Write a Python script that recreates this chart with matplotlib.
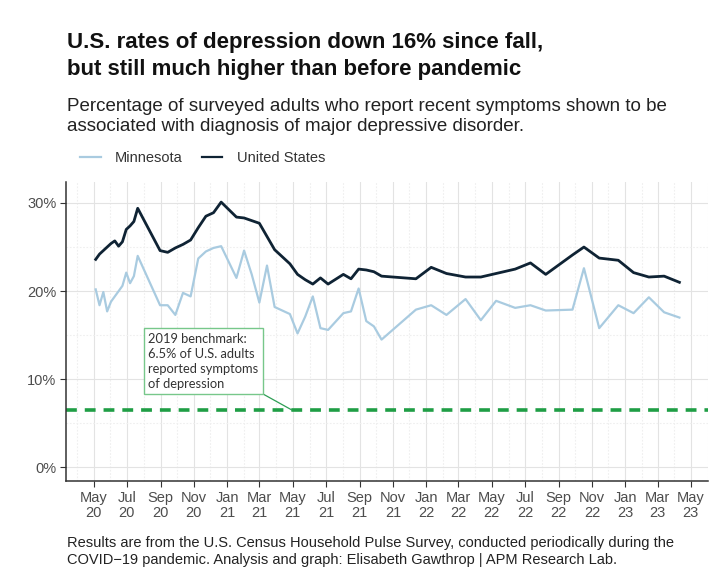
import numpy as np
import pandas as pd
import matplotlib
matplotlib.use("Agg")
import matplotlib.pyplot as plt
import matplotlib.dates as mdates
from matplotlib.ticker import FuncFormatter, MultipleLocator

plt.rcParams['font.family'] = ['Liberation Sans', 'DejaVu Sans']

# Household Pulse Survey periods (end date of each collection period)
dates = pd.to_datetime([
    "2020-05-05", "2020-05-12", "2020-05-19", "2020-05-26", "2020-06-02", "2020-06-09",
    "2020-06-16", "2020-06-23", "2020-06-30", "2020-07-07", "2020-07-14", "2020-07-21",
    "2020-08-31", "2020-09-14", "2020-09-28", "2020-10-12", "2020-10-26", "2020-11-09",
    "2020-11-23", "2020-12-07", "2020-12-21",
    "2021-01-18", "2021-02-01", "2021-02-15", "2021-03-01", "2021-03-15", "2021-03-29",
    "2021-04-26", "2021-05-10", "2021-05-24", "2021-06-07", "2021-06-21", "2021-07-05",
    "2021-08-02", "2021-08-16", "2021-08-30", "2021-09-13", "2021-09-27", "2021-10-11",
    "2021-12-13", "2022-01-10", "2022-02-07", "2022-03-14", "2022-04-11", "2022-05-09",
    "2022-06-13", "2022-07-11", "2022-08-08", "2022-09-26", "2022-10-17", "2022-11-14",
    "2022-12-19", "2023-01-16", "2023-02-13", "2023-03-13", "2023-04-10",
])

united_states = [
    23.6, 24.2, 24.6, 25.0, 25.4, 25.7, 25.1, 25.6, 27.0, 27.4, 27.9, 29.4,
    24.6, 24.4, 24.9, 25.3, 25.8, 27.2, 28.5, 28.9, 30.1,
    28.4, 28.3, 28.0, 27.7, 26.2, 24.7,
    23.1, 21.9, 21.3, 20.8, 21.5, 20.8,
    21.9, 21.4, 22.5, 22.4, 22.2, 21.7,
    21.4, 22.7, 22.0, 21.6, 21.6, 22.0,
    22.5, 23.2, 21.9, 24.1, 25.0, 23.75, 23.5,
    22.1, 21.6, 21.7, 21.0,
]

minnesota = [
    20.2, 18.4, 19.9, 17.7, 18.8, 19.4, 20.0, 20.6, 22.1, 20.9, 21.7, 24.0,
    18.4, 18.4, 17.3, 19.8, 19.4, 23.7, 24.5, 24.9, 25.1,
    21.5, 24.6, 21.9, 18.7, 22.9, 18.2,
    17.4, 15.2, 17.1, 19.4, 15.8, 15.6,
    17.5, 17.7, 20.3, 16.6, 16.0, 14.5,
    17.9, 18.4, 17.3, 19.1, 16.7, 18.9,
    18.1, 18.4, 17.8, 17.9, 22.6, 15.8, 18.4,
    17.5, 19.3, 17.6, 17.0,
]

benchmark_2019 = 6.5

mn_color = "#a9cbe0"
us_color = "#0f2334"
green = "#1f9e45"
grid_major = "#e3e3e3"
grid_minor = "#efefef"

fig = plt.figure(figsize=(7.2, 5.7), dpi=100)
ax = fig.add_axes([0.092, 0.156, 0.891, 0.525])

ax.plot(dates, minnesota, color=mn_color, lw=1.6, label="Minnesota", zorder=3)
ax.plot(dates, united_states, color=us_color, lw=2.0, label="United States", zorder=4)
ax.axhline(benchmark_2019, color=green, lw=2.6, ls=(0, (3, 2.2)), zorder=2)

ax.set_xlim(pd.Timestamp("2020-03-12"), pd.Timestamp("2023-06-01"))
ax.set_ylim(-1.55, 32.4)

# axes / grid styling
ax.xaxis.set_major_locator(mdates.MonthLocator(bymonth=[1, 3, 5, 7, 9, 11]))
ax.xaxis.set_minor_locator(mdates.MonthLocator())
ax.xaxis.set_major_formatter(mdates.DateFormatter("%b\n%y"))
ax.yaxis.set_major_locator(MultipleLocator(10))
ax.yaxis.set_minor_locator(MultipleLocator(5))
ax.yaxis.set_major_formatter(FuncFormatter(lambda v, p: f"{v:.0f}%"))

ax.grid(which="major", color=grid_major, lw=0.8)
ax.grid(which="minor", color=grid_minor, lw=0.8, ls=(0, (1.5, 1.5)))
ax.set_axisbelow(True)

for side in ["top", "right"]:
    ax.spines[side].set_visible(False)
for side in ["left", "bottom"]:
    ax.spines[side].set_color("#333333")
    ax.spines[side].set_linewidth(1.1)

ax.tick_params(which="major", length=4, color="#333333", labelsize=10.5,
               labelcolor="#4d4d4d", pad=3)
ax.tick_params(which="minor", length=0)
for lab in ax.get_xticklabels():
    lab.set_linespacing(1.1)

# benchmark annotation
ax.annotate("2019 benchmark:\n6.5% of U.S. adults\nreported symptoms\nof depression",
            xy=(pd.Timestamp("2021-04-30"), benchmark_2019),
            xytext=(pd.Timestamp("2020-08-09"), 15.3),
            ha="left", va="top", fontsize=9.3, family=["Lato", "DejaVu Sans"],
            color="#333333", linespacing=1.3,
            bbox=dict(boxstyle="square,pad=0.35", fc="white", ec="#77c78a", lw=1.0),
            arrowprops=dict(arrowstyle="-", color="#2e9e55", lw=0.9,
                            relpos=(0.97, 0.0), shrinkA=0, shrinkB=0),
            zorder=5)

# titles
fig.text(0.093, 0.915, "U.S. rates of depression down 16% since fall,",
         fontsize=16, fontweight="bold", color="#111111", va="baseline")
fig.text(0.093, 0.868, "but still much higher than before pandemic",
         fontsize=16, fontweight="bold", color="#111111", va="baseline")
fig.text(0.093, 0.805, "Percentage of surveyed adults who report recent symptoms shown to be",
         fontsize=13.5, color="#222222", va="baseline")
fig.text(0.093, 0.771, "associated with diagnosis of major depressive disorder.",
         fontsize=13.5, color="#222222", va="baseline")

leg = fig.legend(loc="center left", bbox_to_anchor=(0.093, 0.722), ncol=2, frameon=False,
                 fontsize=10.5, handlelength=1.4, columnspacing=1.3, handletextpad=1.0,
                 labelcolor="#333333")
for h in leg.get_lines():
    h.set_linewidth(1.6)

fig.text(0.093, 0.041, "Results are from the U.S. Census Household Pulse Survey, conducted periodically during the",
         fontsize=10.5, color="#222222", va="baseline")
fig.text(0.093, 0.011, "COVID\u221219 pandemic. Analysis and graph: Elisabeth Gawthrop | APM Research Lab.",
         fontsize=10.5, color="#222222", va="baseline")

fig.savefig("out.png", dpi=100, facecolor="white")
